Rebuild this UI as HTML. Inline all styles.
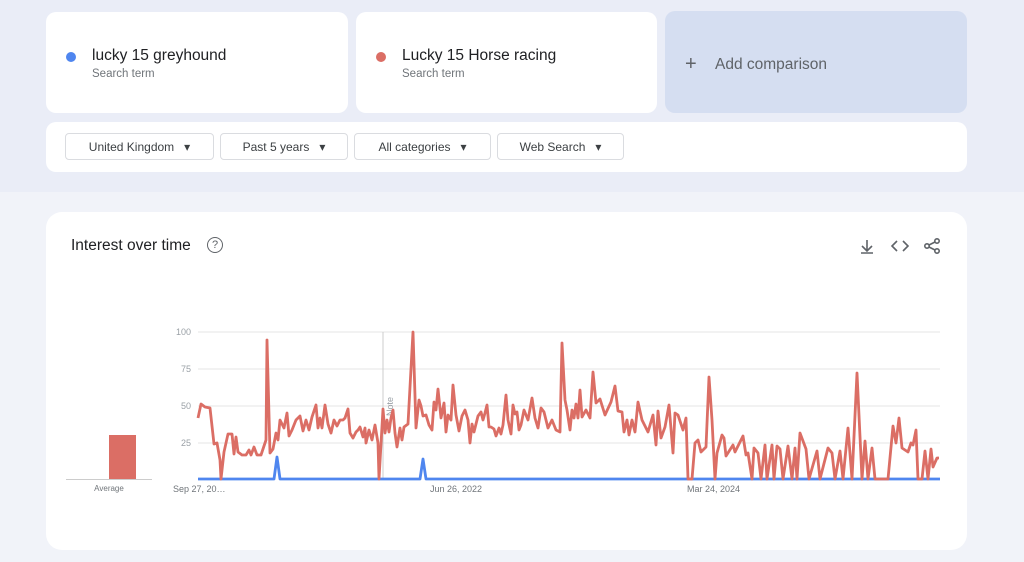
<!DOCTYPE html>
<html><head><style>
body{margin:0;width:1024px;height:562px;background:#f1f3f9;font-family:"Liberation Sans",sans-serif;position:relative;overflow:hidden}
.top{position:absolute;left:0;top:0;width:1024px;height:192px;background:#eaedf7}
.card{position:absolute;background:#fff;border-radius:10px}
.term{font-size:15.5px;color:#202124;position:absolute;left:46px;top:35px}
.sub{font-size:11.5px;color:#70757a;position:absolute;left:46px;top:56px}
.dot{position:absolute;left:20px;top:40px;width:10px;height:10px;border-radius:50%}
.btn{position:absolute;top:11px;height:27px;border:1px solid #dadce0;border-radius:4px;font-size:12px;color:#3c4043;line-height:27px;text-align:center;box-sizing:border-box}
</style></head><body>
<div class="top"></div>
<div class="card" style="left:46px;top:12px;width:302px;height:101px"><div class="dot" style="background:#4f86ef"></div><div class="term">lucky 15 greyhound</div><div class="sub">Search term</div></div>
<div class="card" style="left:356px;top:12px;width:301px;height:101px"><div class="dot" style="background:#db6e65"></div><div class="term">Lucky 15 Horse racing</div><div class="sub">Search term</div></div>
<div class="card" style="left:665px;top:11px;width:302px;height:102px;background:#d5def1"><div style="position:absolute;left:20px;top:42px;font-size:20px;color:#5f6368">+</div><div style="position:absolute;left:50px;top:45px;font-size:15.5px;color:#5f6368">Add comparison</div></div>
<div class="card" style="left:46px;top:122px;width:921px;height:50px">
<div class="btn" style="left:19px;width:149px">United Kingdom&nbsp;&nbsp; ▾</div>
<div class="btn" style="left:174px;width:128px">Past 5 years&nbsp;&nbsp; ▾</div>
<div class="btn" style="left:308px;width:137px">All categories&nbsp;&nbsp; ▾</div>
<div class="btn" style="left:451px;width:127px">Web Search&nbsp;&nbsp; ▾</div>
</div>
<div class="card" style="left:46px;top:212px;width:921px;height:338px;border-radius:16px"></div>
<div style="position:absolute;left:71px;top:237px;font-size:15.5px;color:#202124">Interest over time</div>
<div style="position:absolute;left:207px;top:237px;width:14px;height:14px;border:1.5px solid #5f6368;border-radius:50%;font-size:11px;color:#5f6368;text-align:center;line-height:14px">?</div>
<svg style="position:absolute;left:0;top:0" width="1024" height="562">
<g stroke="#5f6368" stroke-width="1.6" fill="none">
<path d="M867 240v10M862 246l5 5 5-5M861 253h12"/>
<path d="M897 241l-5 5 5 5M903 241l5 5-5 5"/>
<circle cx="937" cy="241" r="2.2"/><circle cx="927" cy="246" r="2.2"/><circle cx="937" cy="251" r="2.2"/><path d="M929 245l6-3M929 247l6 3"/>
</g>
<g stroke="#e5e5e5" stroke-width="1"><path d="M198 332H940M198 369H940M198 406H940M198 443H940"/></g>
<g font-size="9" fill="#9aa0a6" text-anchor="end"><text x="191" y="335">100</text><text x="191" y="372">75</text><text x="191" y="409">50</text><text x="191" y="446">25</text></g>
<line x1="383" y1="332" x2="383" y2="479" stroke="#ccc"/>
<text x="393" y="416" font-size="9" fill="#9aa0a6" transform="rotate(-90 393 416)">Note</text>
<line x1="66" y1="479.5" x2="152" y2="479.5" stroke="#ccc"/>
<rect x="109" y="435" width="27" height="44" fill="#db6e65"/>
<text x="109" y="491" font-size="8" fill="#70757a" text-anchor="middle">Average</text>
<g font-size="9" fill="#70757a"><text x="173" y="492">Sep 27, 20…</text><text x="430" y="492">Jun 26, 2022</text><text x="687" y="492">Mar 24, 2024</text></g>
<polyline fill="none" stroke="#4f86ef" stroke-width="2.8" stroke-linejoin="round" points="198,479 274,479 277,457 280,479 420,479 423,459 426,479 940,479"/>
<polyline fill="none" stroke="#db6e65" stroke-width="2.8" stroke-linejoin="round" points="198,418 201,404 205,407 210,408 214,444 217,443 220,460 221,479 224,452 228,434 232,434 234,454 236,437 238,452 242,455 246,455 249,450 251,455 254,447 257,455 261,455 264,446 266,440 267,340 270,453 273,449 276,433 278,440 280,420 284,428 287,413 289,436 292,430 296,420 300,416 303,431 306,420 309,430 312,417 316,405 318,428 320,418 322,428 325,405 328,424 331,433 334,420 337,426 340,420 343,420 345,418 348,409 350,433 353,438 356,432 358,430 360,427 363,437 365,428 366,443 369,430 372,440 375,425 378,443 379,479 383,409 385,433 387,420 389,432 391,418 393,410 395,433 397,447 400,428 402,440 404,427 408,424 413,332 416,428 419,400 421,406 423,416 426,415 429,425 432,430 434,402 436,410 438,389 441,418 444,403 446,432 448,415 451,420 453,385 456,415 459,431 462,416 465,410 468,420 470,443 472,424 474,432 478,416 481,412 483,420 485,413 487,405 489,427 491,427 494,429 496,436 499,428 501,434 503,425 506,395 508,420 511,434 513,405 515,414 517,412 519,430 521,425 524,410 528,420 532,398 535,418 538,428 541,408 544,412 548,428 552,420 556,430 560,432 562,343 565,400 567,410 570,430 572,410 574,418 576,404 578,418 580,390 582,417 586,410 590,418 593,372 596,403 600,399 605,415 611,402 615,386 618,411 622,412 624,432 627,420 629,435 632,420 635,432 638,402 642,420 648,432 653,415 656,445 658,411 661,438 665,427 669,405 673,453 675,413 678,415 683,430 686,418 688,479 692,479 695,443 698,440 701,452 706,447 709,377 712,420 715,479 717,453 722,435 724,438 726,456 733,445 735,452 743,436 746,455 748,453 752,479 754,448 758,453 761,479 765,445 767,479 772,445 774,479 777,446 780,449 783,479 788,446 792,479 795,448 797,479 800,433 806,449 809,479 817,451 820,479 828,448 832,453 835,479 840,451 843,479 848,428 852,479 857,373 862,479 865,441 868,479 872,448 875,479 888,479 893,426 896,443 899,418 902,448 908,452 911,443 913,445 916,430 918,479 922,479 925,451 928,479 931,449 933,467 937,458 939,458"/>
</svg>
</body></html>
